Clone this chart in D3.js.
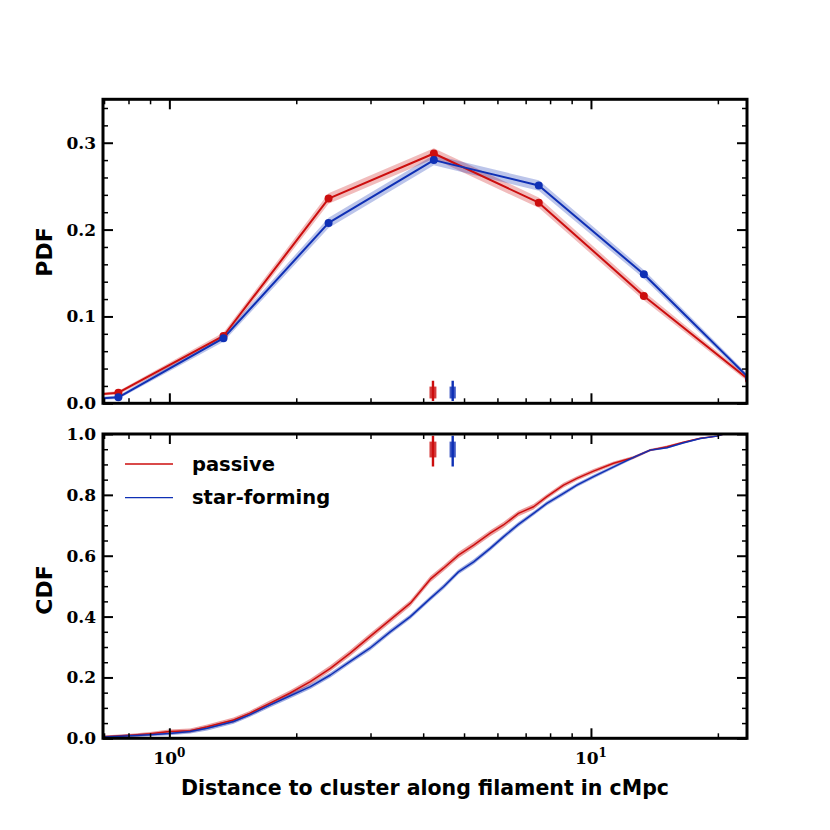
<!DOCTYPE html>
<html><head><meta charset="utf-8">
<script src="https://cdn.jsdelivr.net/npm/d3@7"></script>
<style>body{margin:0;background:#fff}</style>
</head><body>
<svg id="c" width="830" height="830"></svg>
<script>
// ---------- data ----------
const seriesNames = ["passive", "star-forming"];
const pdfX = [0.426, 0.757, 1.344, 2.386, 4.24, 7.52, 13.35, 23.7];
const pdfPassive = [0.002, 0.0122, 0.0775, 0.2357, 0.2876, 0.231, 0.1236, 0.027];
const pdfPassiveErr = [0.001, 0.002, 0.004, 0.006, 0.006, 0.006, 0.005, 0.003];
const pdfStarForming = [0.000, 0.0069, 0.075, 0.2077, 0.280, 0.2507, 0.1486, 0.029];
const pdfStarFormingErr = [0.001, 0.002, 0.004, 0.006, 0.006, 0.006, 0.005, 0.003];

const cdfX = [0.60, 0.70, 0.81, 0.90, 1.00, 1.12, 1.23, 1.42, 1.55, 1.73, 1.93, 2.16, 2.41, 2.68, 2.99, 3.34, 3.73,
  4.16, 4.47, 4.85, 5.27, 5.77, 6.20, 6.73, 7.31, 7.86, 8.61, 9.26, 10.14, 11.32, 12.62, 13.82, 15.15, 16.59, 18.17, 19.91, 20.64];
const cdfPassive = [0.002, 0.005, 0.010, 0.015, 0.022, 0.025, 0.038, 0.060, 0.082, 0.115, 0.148, 0.186, 0.230, 0.279, 0.334, 0.389, 0.444,
  0.523, 0.559, 0.602, 0.635, 0.674, 0.701, 0.739, 0.761, 0.794, 0.832, 0.854, 0.878, 0.904, 0.923, 0.947, 0.958, 0.973, 0.986, 0.993, 1.0];
const cdfStarForming = [0.002, 0.004, 0.008, 0.012, 0.016, 0.022, 0.033, 0.055, 0.077, 0.109, 0.139, 0.170, 0.208, 0.252, 0.296, 0.350, 0.400,
  0.460, 0.498, 0.547, 0.580, 0.624, 0.662, 0.703, 0.739, 0.772, 0.805, 0.832, 0.860, 0.892, 0.923, 0.947, 0.955, 0.971, 0.985, 0.993, 1.0];
const cdfPassiveErr = [0.003, 0.004, 0.005, 0.006, 0.007, 0.007, 0.007, 0.008, 0.008, 0.009, 0.009, 0.010, 0.010, 0.010, 0.010, 0.010, 0.010,
  0.010, 0.010, 0.010, 0.010, 0.010, 0.010, 0.009, 0.009, 0.008, 0.008, 0.007, 0.007, 0.006, 0.005, 0.004, 0.004, 0.003, 0.002, 0.001, 0.0];
const cdfStarFormingErr = [0.003, 0.004, 0.005, 0.005, 0.006, 0.006, 0.007, 0.007, 0.007, 0.008, 0.008, 0.008, 0.008, 0.008, 0.008, 0.008, 0.008,
  0.008, 0.008, 0.008, 0.008, 0.008, 0.008, 0.008, 0.007, 0.007, 0.007, 0.006, 0.006, 0.005, 0.004, 0.004, 0.003, 0.003, 0.002, 0.001, 0.0];

const medians = [4.22, 4.70];          // passive, star-forming
const medianErr = [0.08, 0.08];        // +/- on the median

const pdfTicks = [0.0, 0.1, 0.2, 0.3];
const pdfMinor = [0.02, 0.04, 0.06, 0.08, 0.12, 0.14, 0.16, 0.18, 0.22, 0.24, 0.26, 0.28, 0.32, 0.34];
const cdfTicks = [0.0, 0.2, 0.4, 0.6, 0.8, 1.0];
const cdfMinor = [0.05, 0.1, 0.15, 0.25, 0.3, 0.35, 0.45, 0.5, 0.55, 0.65, 0.7, 0.75, 0.85, 0.9, 0.95];
const xMajor = [1, 10];
const xMajorExp = ["0", "1"];
const xMinor = [0.7, 0.8, 0.9, 2, 3, 4, 5, 6, 7, 8, 9, 20];
const xLabel = "Distance to cluster along filament in cMpc";

// ---------- layout ----------
const RED = "#cc0e0e", BLUE = "#0f30b5";
const colors = [RED, BLUE];
const L = 103, R = 747;
const svg = d3.select("#c");
const x = d3.scaleLog().domain([0.696, 23.45]).range([L, R]);
const yTop = d3.scaleLinear().domain([0, 0.35]).range([403.3, 99.3]);
const yBot = d3.scaleLinear().domain([0, 1]).range([738.3, 434]);

const defs = svg.append("defs");
function clip(id, y) {
  defs.append("clipPath").attr("id", id).append("rect")
    .attr("x", L).attr("y", y.range()[1]).attr("width", R - L).attr("height", y.range()[0] - y.range()[1]);
}
clip("cTop", yTop); clip("cBot", yBot);

function band(g, xs, ys, es, y, color, op) {
  const area = d3.area().x((d, i) => x(xs[i])).y0((d, i) => y(ys[i] - es[i])).y1((d, i) => y(ys[i] + es[i]));
  g.append("path").attr("d", area(xs)).attr("fill", color).attr("fill-opacity", op).attr("stroke", "none");
}
function line(g, xs, ys, y, color, w) {
  const ln = d3.line().x((d, i) => x(xs[i])).y((d, i) => y(ys[i]));
  g.append("path").attr("d", ln(xs)).attr("fill", "none").attr("stroke", color).attr("stroke-width", w)
    .attr("stroke-linejoin", "round");
}
function medianMarkers(g, y, f0, f1, r0, r1) {
  const fy = d3.scaleLinear().domain([0, 1]).range([y.range()[0], y.range()[1]]);
  medians.forEach((m, i) => {
    const c = colors[i];
    g.append("rect").attr("x", x(m - medianErr[i])).attr("width", x(m + medianErr[i]) - x(m - medianErr[i]))
      .attr("y", fy(r1)).attr("height", fy(r0) - fy(r1)).attr("fill", c).attr("fill-opacity", 0.8);
    g.append("line").attr("x1", x(m)).attr("x2", x(m)).attr("y1", fy(f0)).attr("y2", fy(f1))
      .attr("stroke", c).attr("stroke-width", 2.4);
  });
}

// ---------- top panel ----------
const gTop = svg.append("g").attr("clip-path", "url(#cTop)");
band(gTop, pdfX, pdfPassive, pdfPassiveErr, yTop, RED, 0.28);
band(gTop, pdfX, pdfStarForming, pdfStarFormingErr, yTop, BLUE, 0.28);
line(gTop, pdfX, pdfPassive, yTop, RED, 2);
line(gTop, pdfX, pdfStarForming, yTop, BLUE, 2);
[[pdfPassive, RED], [pdfStarForming, BLUE]].forEach(([ys, c]) => {
  gTop.selectAll(null).data(pdfX).enter().append("circle")
    .attr("cx", d => x(d)).attr("cy", (d, i) => yTop(ys[i])).attr("r", 4).attr("fill", c);
});
medianMarkers(gTop, yTop, 0.0075, 0.074, 0.016, 0.055);

// ---------- bottom panel ----------
const gBot = svg.append("g").attr("clip-path", "url(#cBot)");
band(gBot, cdfX, cdfPassive, cdfPassiveErr, yBot, RED, 0.4);
band(gBot, cdfX, cdfStarForming, cdfStarFormingErr, yBot, BLUE, 0.4);
line(gBot, cdfX, cdfPassive, yBot, RED, 1.5);
line(gBot, cdfX, cdfStarForming, yBot, BLUE, 1.5);
medianMarkers(gBot, yBot, 0.893, 0.994, 0.923, 0.975);

// ---------- axes ----------
const tickFont = "'DejaVu Serif', serif";
function axes(y, major, minor, fmt, showX) {
  const y0 = y.range()[0], y1 = y.range()[1];
  const mk = (gen, tr, size, w, labels) => {
    const g = svg.append("g").attr("transform", tr)
      .call(gen.tickSize(-size).tickPadding(7));
    g.select(".domain").remove();
    g.selectAll(".tick line").attr("stroke", "#000").attr("stroke-width", w);
    if (!labels) g.selectAll(".tick text").remove();
    else g.selectAll(".tick text").attr("font-family", tickFont).attr("font-weight", "bold")
      .attr("font-size", 17).attr("fill", "#000");
    return g;
  };
  // y axes
  mk(d3.axisLeft(y).tickValues(major).tickFormat(fmt), `translate(${L},0)`, 10, 2, true);
  mk(d3.axisLeft(y).tickValues(minor).tickFormat(""), `translate(${L},0)`, 5, 1.5, false);
  mk(d3.axisRight(y).tickValues(major).tickFormat(""), `translate(${R},0)`, 10, 2, false);
  mk(d3.axisRight(y).tickValues(minor).tickFormat(""), `translate(${R},0)`, 5, 1.5, false);
  // x axes
  mk(d3.axisBottom(x).tickValues(xMajor).tickFormat(""), `translate(0,${y0})`, 10, 2, false);
  mk(d3.axisBottom(x).tickValues(xMinor).tickFormat(""), `translate(0,${y0})`, 5, 1.5, false);
  mk(d3.axisTop(x).tickValues(xMajor).tickFormat(""), `translate(0,${y1})`, 10, 2, false);
  mk(d3.axisTop(x).tickValues(xMinor).tickFormat(""), `translate(0,${y1})`, 5, 1.5, false);
  // spines
  svg.append("rect").attr("x", L).attr("y", y1).attr("width", R - L).attr("height", y0 - y1)
    .attr("fill", "none").attr("stroke", "#000").attr("stroke-width", 3);
  if (showX) {
    xMajor.forEach((v, i) => {
      const t = svg.append("text").attr("x", x(v)).attr("y", y0 + 26).attr("text-anchor", "middle")
        .attr("font-family", tickFont).attr("font-weight", "bold").attr("font-size", 17);
      t.append("tspan").text("10");
      t.append("tspan").attr("dy", -7.5).attr("font-size", 12).text(xMajorExp[i]);
    });
  }
}
axes(yTop, pdfTicks, pdfMinor, d3.format(".1f"), false);
axes(yBot, cdfTicks, cdfMinor, d3.format(".1f"), true);

// ---------- labels ----------
const sans = "'DejaVu Sans', sans-serif";
function ylab(txt, cy) {
  svg.append("text").attr("transform", `translate(44,${cy}) rotate(-90)`).attr("text-anchor", "middle")
    .attr("dominant-baseline", "central").attr("font-family", sans).attr("font-weight", "bold")
    .attr("font-size", 22).text(txt);
}
ylab("PDF", 252);
ylab("CDF", 590);
svg.append("text").attr("x", (L + R) / 2).attr("y", 795).attr("text-anchor", "middle")
  .attr("font-family", sans).attr("font-weight", "bold").attr("font-size", 20.5).text(xLabel);

// ---------- legend ----------
seriesNames.forEach((n, i) => {
  const ly = 464 + i * 33.7;
  svg.append("line").attr("x1", 125).attr("x2", 173).attr("y1", ly).attr("y2", ly)
    .attr("stroke", colors[i]).attr("stroke-width", 1.3);
  svg.append("text").attr("x", 192).attr("y", ly).attr("dominant-baseline", "central")
    .attr("font-family", sans).attr("font-weight", "bold").attr("font-size", 19.5).text(n);
});
</script>
</body></html>
